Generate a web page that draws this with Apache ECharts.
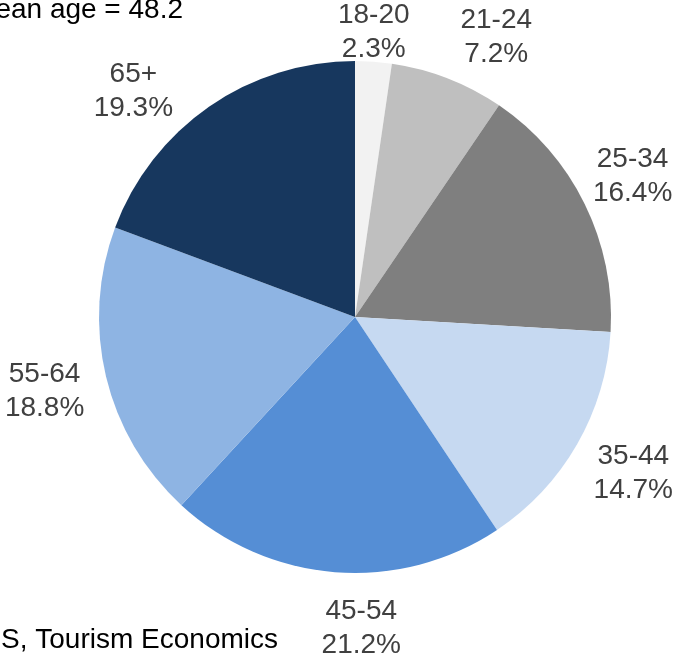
<!DOCTYPE html>
<html>
<head>
<meta charset="utf-8">
<title>Age distribution</title>
<script src="https://cdn.jsdelivr.net/npm/echarts@6/dist/echarts.min.js"></script>
<style>
  html, body { margin: 0; padding: 0; background: #ffffff; }
  #chart { width: 678px; height: 657px; }
</style>
</head>
<body>
<div id="chart"></div>
<script>
// Age groups and their share of travellers (%)
var ageGroups = ['18-20', '21-24', '25-34', '35-44', '45-54', '55-64', '65+'];
var shares = [2.3, 7.2, 16.4, 14.7, 21.2, 18.8, 19.3];
var sliceColors = ['#f2f2f2', '#bfbfbf', '#7f7f7f', '#c6d9f1', '#558ed5', '#8eb4e3', '#17375e'];
// small nudges applied to each slice label after the library places it
var labelNudge = [[-4, 29], [27, 14], [-5, -2], [5, 0], [31, -3], [-4, 1], [-42, 33]];

var meanAgeText = 'Mean age = 48.2';
var sourceText = 'Source: DHS, Tourism Economics';

var FONT = '"Liberation Sans", Arial, Helvetica, sans-serif';
var center = [355, 317];
var R = 256;

var chart = echarts.init(document.getElementById('chart'), null, { renderer: 'canvas' });

var pieData = ageGroups.map(function (g, i) {
  return { name: g, value: shares[i], itemStyle: { color: sliceColors[i] } };
});

var labelData = ageGroups.map(function (g, i) {
  return {
    name: g,
    value: shares[i],
    label: { offset: labelNudge[i] }
  };
});

chart.setOption({
  animation: false,
  backgroundColor: '#ffffff',
  series: [
    {
      type: 'pie',
      center: center,
      radius: R,
      startAngle: 90,
      clockwise: true,
      silent: true,
      label: { show: false },
      labelLine: { show: false },
      itemStyle: { borderWidth: 0 },
      data: pieData
    },
    {
      // transparent ring that carries the category / percentage labels
      type: 'pie',
      center: center,
      radius: [R, 368],
      startAngle: 90,
      clockwise: true,
      silent: true,
      itemStyle: { color: 'rgba(0,0,0,0)', borderWidth: 0 },
      labelLine: { show: false },
      label: {
        show: true,
        position: 'inside',
        formatter: function (p) { return p.name + '\n' + p.value.toFixed(1) + '%'; },
        fontFamily: FONT,
        fontSize: 28,
        lineHeight: 34,
        color: '#404040',
        align: 'center'
      },
      data: labelData
    }
  ],
  graphic: [
    {
      type: 'text',
      x: 183,
      y: 10,
      style: {
        text: meanAgeText,
        font: '28px ' + FONT,
        fill: '#000000',
        textAlign: 'right',
        textVerticalAlign: 'middle'
      }
    },
    {
      type: 'text',
      x: 278,
      y: 640,
      style: {
        text: sourceText,
        font: '28px ' + FONT,
        fill: '#000000',
        textAlign: 'right',
        textVerticalAlign: 'middle'
      }
    }
  ]
});
</script>
</body>
</html>
